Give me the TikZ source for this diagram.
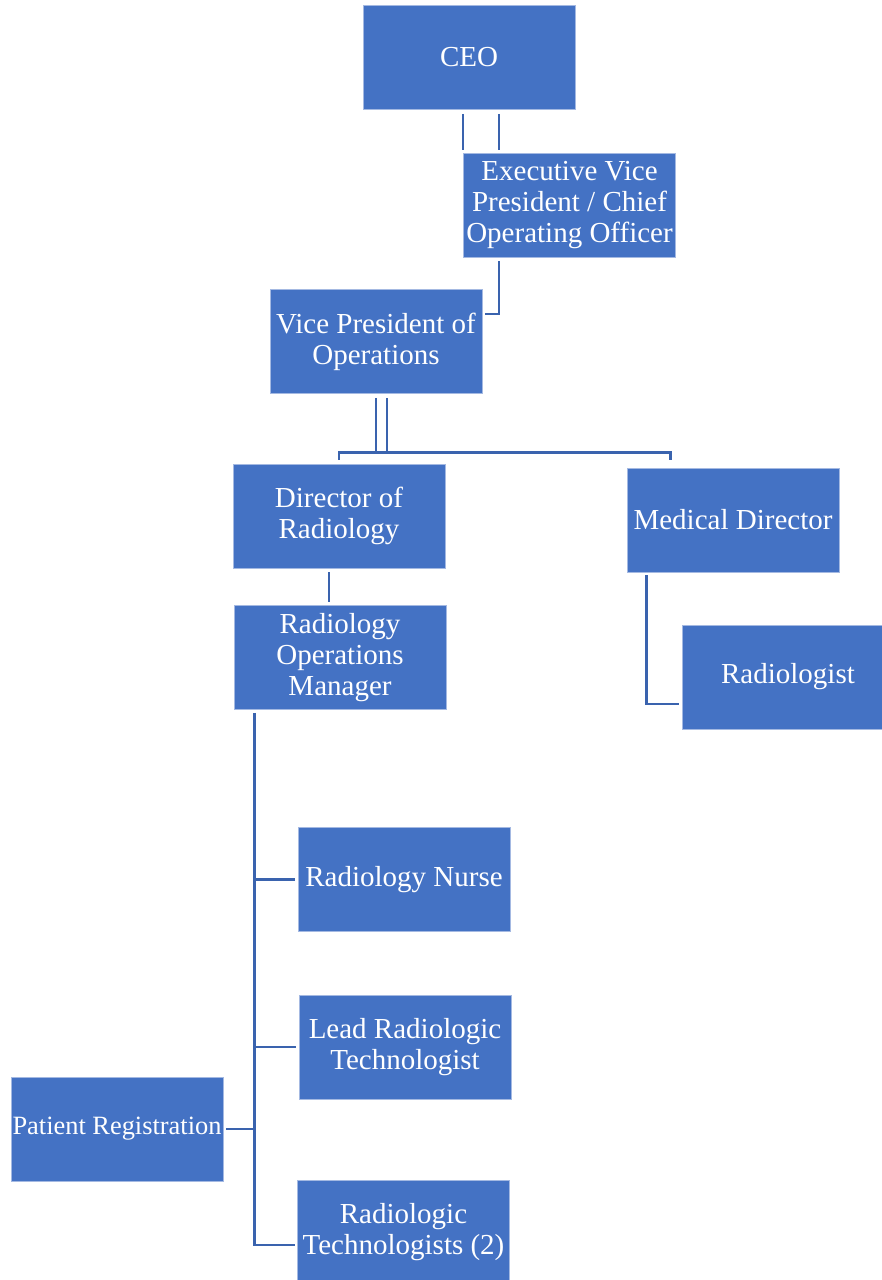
\documentclass[tikz,border=0pt]{standalone}
\usepackage{fontspec}
\setmainfont{Liberation Serif}
\usetikzlibrary{positioning, calc}
\definecolor{boxblue}{HTML}{4472C4}
\definecolor{boxedge}{HTML}{A4B9E2}
\definecolor{linkblue}{HTML}{3A63AE}
\tikzset{
    unit/.style={
        rectangle,
        draw=boxedge,
        line width=0.4pt,
        fill=boxblue,
        minimum width=106pt,
        minimum height=52pt,
        inner sep=0pt,
        align=center,
        text=white,
        font=\fontsize{14.5}{15.5}\selectfont
    },
    link/.style={
        draw=linkblue,
        line width=1.3pt
    }
}
\begin{document}
\begin{tikzpicture}[x=0.5pt, y=-0.5pt]
    \useasboundingbox (0,0) rectangle (882,1280);
    \begin{scope}
    \clip (0,0) rectangle (882,1280);
    \node[unit] (ceo)      at (469,57.5)   {CEO};
    \node[unit] (evp)      at (569.5,205)  {Executive Vice\\President / Chief\\Operating Officer};
    \node[unit] (vpops)    at (376,341.5)  {Vice President of\\Operations};
    \node[unit] (dirrad)   at (339,516)    {Director of\\Radiology};
    \node[unit] (meddir)   at (733,520)    {Medical Director};
    \node[unit] (rom)      at (340,657.5)  {Radiology\\Operations\\Manager};
    \node[unit] (radlog)   at (788,677)    {Radiologist};
    \node[unit] (nurse)    at (404,879.5)  {Radiology Nurse};
    \node[unit] (leadtech) at (405,1047)   {Lead Radiologic\\Technologist};
    \node[unit, font=\fontsize{13.2}{15}\selectfont] (patreg) at (117,1129) {Patient Registration};
    \node[unit] (radtech)  at (403.5,1232) {Radiologic\\Technologists (2)};

    % CEO to EVP
    \draw[link] ($(ceo.south -| evp.west)+(0,4)$)  -- ($(evp.north west)+(0,-3)$);
    \draw[link] ($(ceo.south -| evp.west)+(36,4)$) -- ($(evp.north west)+(36,-3)$);
    % EVP to VP
    \draw[link] ($(evp.south west)+(36,4)$) |- ($(vpops.north east)+(3,25)$);
    % VP to directors
    \draw[link] ($(vpops.south)+(0,4)$)  -- ($(vpops.south)+(0,60)$);
    \draw[link] ($(vpops.south)+(11,4)$) -- ($(vpops.south)+(11,60)$);
    \draw[link] ($(dirrad.north)+(0,-4)$) -- ++(0,-7) -| ($(meddir.north west)+(44,-8)$);
    % director to manager
    \draw[link] ($(dirrad.south)+(-10,4)$) -- ($(rom.north -| dirrad.south)+(-10,-3)$);
    % medical director to radiologist
    \draw[link] ($(meddir.south west)+(20,3)$) |- ($(radlog.west)+(-3,27)$);
    % manager to staff
    \coordinate (trunk) at ($(rom.south west)+(21,3)$);
    \draw[link] (trunk) |- ($(radtech.west)+(-2,13)$);
    \draw[link] (trunk |- nurse.west)    -- ($(nurse.west)+(-3,0)$);
    \draw[link] (trunk |- leadtech.west) -- ($(leadtech.west)+(-3,0)$);
    \draw[link] (trunk |- patreg.east)   -- ($(patreg.east)+(3,0)$);
    \end{scope}
\end{tikzpicture}
\end{document}
